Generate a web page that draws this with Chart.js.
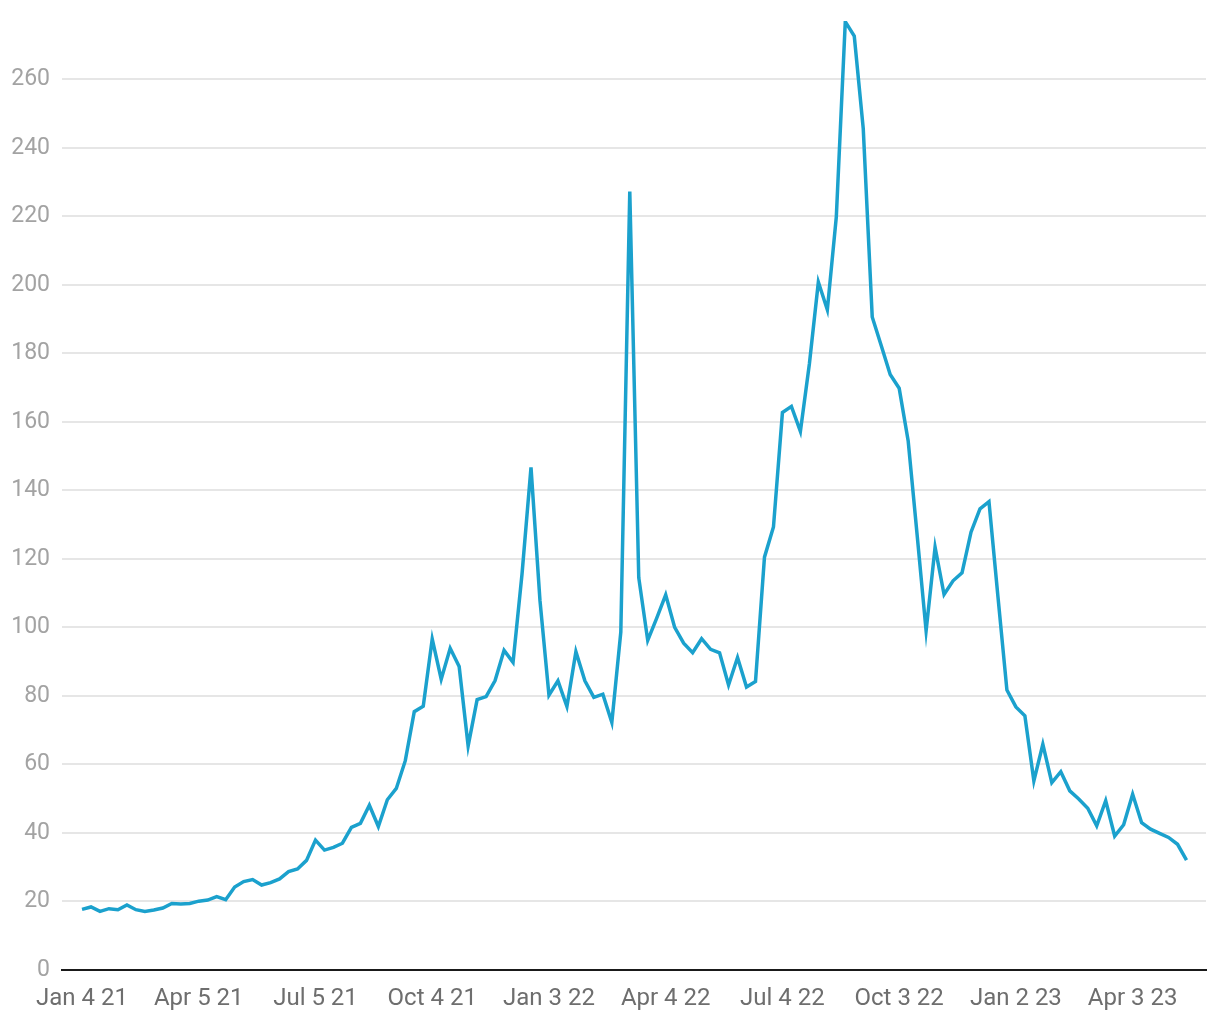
<!DOCTYPE html>
<html>
<head>
<meta charset="utf-8">
<title>Weekly chart</title>
<script src="https://cdn.jsdelivr.net/npm/chart.js@4.4.1/dist/chart.umd.min.js"></script>
<style>
    html, body { margin: 0; padding: 0; background: #fff; }
    #wrap { width: 1220px; height: 1020px; position: relative; }
</style>
</head>
<body>
<div id="wrap"><canvas id="myChart"></canvas></div>
<script>
// Tick labels on the x axis (one every 13 weeks, starting Jan 4 21)
const tickLabels = ['Jan 4 21', 'Apr 5 21', 'Jul 5 21', 'Oct 4 21', 'Jan 3 22',
    'Apr 4 22', 'Jul 4 22', 'Oct 3 22', 'Jan 2 23', 'Apr 3 23'];
const weeksPerTick = 13;

// Weekly values (week 0 = Jan 4 21)
const weeklyValues = [
    17.7, 18.4, 17.1, 17.9, 17.6, 19.0, 17.6, 17.1, 17.5, 18.1,
    19.4, 19.3, 19.4, 20.1, 20.4, 21.4, 20.5, 24.2, 25.8, 26.4,
    24.8, 25.5, 26.6, 28.7, 29.5, 32.0, 37.9, 35.0, 35.8, 37.0,
    41.6, 42.8, 48.1, 41.9, 49.7, 53.0, 61.1, 75.4, 77.0, 96.6,
    84.9, 93.9, 88.6, 65.4, 78.9, 79.8, 84.5, 93.3, 89.8, 115.6,
    146.7, 107.8, 80.2, 84.4, 76.9, 92.9, 84.4, 79.6, 80.5, 72.3,
    98.6, 227.2, 114.5, 96.2, 102.7, 109.5, 100.0, 95.4, 92.6, 96.7,
    93.6, 92.6, 83.2, 91.2, 82.6, 84.2, 120.5, 129.3, 162.7, 164.5,
    157.2, 176.9, 200.8, 192.7, 219.8, 276.8, 272.6, 245.6, 190.6, 182.3,
    173.8, 169.8, 154.5, 127.0, 99.0, 123.4, 109.6, 113.6, 115.9, 127.8,
    134.6, 136.7, 109.0, 81.7, 76.8, 74.2, 55.2, 65.9, 54.7, 57.9,
    52.3, 49.9, 47.2, 42.1, 49.4, 39.1, 42.4, 51.3, 43.0, 41.1,
    39.9, 38.7, 36.7, 32.1
];

const yTickStep = 20;

// build points for the linear x scale
const points = weeklyValues.map((v, i) => ({ x: i, y: v }));

const ctx = document.getElementById('myChart');

const chart = new Chart(ctx, {
    type: 'line',
    data: {
        datasets: [{
            data: points,
            borderColor: '#1ba1cd',
            borderWidth: 3.5,
            pointRadius: 0,
            tension: 0,
            fill: false
        }]
    },
    options: {
        responsive: true,
        maintainAspectRatio: false,
        animation: false,
        devicePixelRatio: 1,
        layout: {
            padding: { top: 21, right: 14, bottom: 0, left: 0 }
        },
        plugins: {
            legend: { display: false },
            tooltip: { enabled: false }
        },
        scales: {
            x: {
                type: 'linear',
                min: -2.23,
                max: 125.17,
                grid: { display: false, drawTicks: false },
                border: { display: true, color: '#1a1a1a', width: 2 },
                afterBuildTicks: (axis) => {
                    axis.ticks = tickLabels.map((_, i) => ({ value: i * weeksPerTick }));
                },
                afterFit: (scale) => {
                    scale.height = 50;
                    scale.paddingLeft = 0;
                    scale.paddingRight = 0;
                },
                ticks: {
                    autoSkip: false,
                    maxRotation: 0,
                    padding: 15,
                    color: '#6e6e6e',
                    font: { family: 'Roboto', size: 24 },
                    callback: (value) => tickLabels[Math.round(value / weeksPerTick)]
                }
            },
            y: {
                min: 0,
                max: 277,
                grid: {
                    drawTicks: false,
                    lineWidth: 2,
                    color: (c) => c.tick && c.tick.value === 0 ? 'rgba(0,0,0,0)' : '#e6e6e6'
                },
                border: { display: false },
                afterBuildTicks: (axis) => {
                    axis.ticks = axis.ticks.filter(t => t.value % yTickStep === 0);
                },
                afterFit: (scale) => {
                    scale.width = 62;
                    scale.paddingTop = 0;
                    scale.paddingBottom = 0;
                },
                ticks: {
                    stepSize: yTickStep,
                    padding: 12,
                    color: '#a3a3a3',
                    font: { family: 'Roboto', size: 23 }
                }
            }
        }
    }
});
</script>
</body>
</html>
